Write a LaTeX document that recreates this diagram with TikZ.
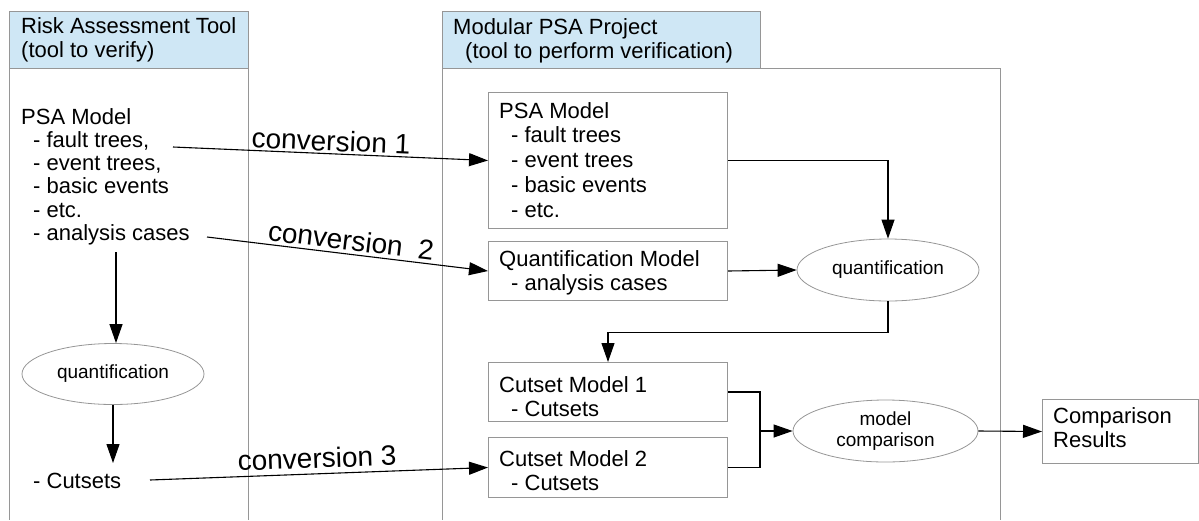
\documentclass[tikz,border=0pt]{standalone}
\usepackage{fontspec}
\setmainfont{Liberation Sans}
\usetikzlibrary{arrows.meta,shapes.geometric}
\definecolor{hdrblue}{RGB}{207,231,245}
\definecolor{edgegray}{RGB}{150,150,150}
\newcommand{\mystrut}{\rule{0pt}{17pt}}
\begin{document}
\begin{tikzpicture}[x=1pt,y=-1pt,
  colline/.style={draw=edgegray, line width=1pt},
  boxnode/.style={draw=edgegray, line width=1pt, anchor=north west, inner sep=0pt},
  hdr/.style={boxnode, fill=hdrblue},
  txt/.style={anchor=north west, inner sep=0pt, align=left, font=\fontsize{22}{24.7}\selectfont},
  elltxt/.style={ellipse, draw=edgegray, line width=0.8pt, inner sep=0pt, align=center, font=\fontsize{19}{20.5}\selectfont},
  conn/.style={draw=black, line width=1.1pt, -{Triangle[length=19pt,width=13pt]}},
  plainline/.style={draw=black, line width=1.1pt},
  convlbl/.style={sloped, above, font=\fontsize{28}{30}\selectfont}
]
\useasboundingbox (0,0) rectangle (1199,520);

% left column
\draw[colline] (9,68) -- (9,520) (248,68) -- (248,520);
\node[hdr, minimum width=239pt, minimum height=57pt] (lhdr) at (9,11) {};
\node[txt, font=\fontsize{22}{24.2}\selectfont] (lhdrtxt) at (21,16.5) {\mystrut Risk Assessment Tool\\(tool to verify)};

% middle column
\draw[colline] (442,68) -- (442,520) (760,68) -- (1000,68) -- (1000,520);
\node[hdr, minimum width=318pt, minimum height=57pt] (mhdr) at (442,11) {};
\node[txt, font=\fontsize{22}{24.2}\selectfont] (mhdrtxt) at (453,17) {\mystrut Modular PSA Project\\\hspace*{12pt}(tool to perform verification)};

% left contents
\node[txt, font=\fontsize{22}{23.2}\selectfont] (lpsa) at (21,107) {\mystrut PSA Model\\\hspace*{12pt}- fault trees,\\\hspace*{12pt}- event trees,\\\hspace*{12pt}- basic events\\\hspace*{12pt}- etc.\\\hspace*{12pt}- analysis cases};
\node[elltxt, minimum width=182pt, minimum height=61pt] (lq) at (113,374) {quantification};
\node[txt] (lcut) at (33,471) {\mystrut - Cutsets};
\coordinate (la) at (116,252);
\coordinate (lcin) at (113,463);
\draw[conn] (la) -- (la |- lq.north);
\draw[conn] (lq.south) -- (lcin);

% right boxes
\node[boxnode, minimum width=239pt, minimum height=136pt] (rpsa) at (488,92) {};
\node[txt, font=\fontsize{22}{24.75}\selectfont] (rpsatxt) at (499,101) {\mystrut PSA Model\\\hspace*{12pt}- fault trees\\\hspace*{12pt}- event trees\\\hspace*{12pt}- basic events\\\hspace*{12pt}- etc.};
\node[boxnode, minimum width=239pt, minimum height=59pt] (qbox) at (488,241) {};
\node[txt] (qtxt) at (499,249) {\mystrut Quantification Model\\\hspace*{12pt}- analysis cases};
\node[boxnode, minimum width=239pt, minimum height=59pt] (cut1) at (488,362) {};
\node[txt, font=\fontsize{22}{24}\selectfont] (cut1txt) at (499,375) {\mystrut Cutset Model 1\\\hspace*{12pt}- Cutsets};
\node[boxnode, minimum width=239pt, minimum height=60pt] (cut2) at (488,437) {};
\node[txt, font=\fontsize{22}{24}\selectfont] (cut2txt) at (499,449) {\mystrut Cutset Model 2\\\hspace*{12pt}- Cutsets};
\node[elltxt, minimum width=182pt, minimum height=62pt] (qell) at (888,270) {quantification};
\node[elltxt, minimum width=185pt, minimum height=62pt] (mell) at (885.5,431) {model\\comparison};
\node[boxnode, minimum width=155.5pt, minimum height=64pt] (res) at (1042,399) {};
\node[txt] (restxt) at (1053,406) {\mystrut Comparison\\Results};

% right connectors
\draw[conn] (rpsa.east) -| (qell.north);
\draw[conn] (qbox.east) -- (qell.west);
\draw[conn] (qell.south) -- ++(0,31) -| (cut1.north);
\coordinate (jx) at (760,431);
\draw[plainline] (cut1.east) -| (jx) |- (cut2.east);
\draw[conn] (jx) -- (mell.west);
\draw[conn] (mell.east) -- (res.west);

% conversions
\coordinate (s1) at (173,147);
\coordinate (s2) at (207,237);
\coordinate (s3) at (150,480);
\draw[conn] (s1) -- node[convlbl, pos=0.5, inner sep=2pt] (c1) {conversion 1} (rpsa.west);
\draw[conn] (s2) -- node[convlbl, pos=0.507, inner sep=3pt] (c2) {conversion~~2} (qbox.west);
\draw[conn] (s3) -- node[convlbl, pos=0.496, inner sep=5pt] (c3) {conversion 3} (cut2.west);
\end{tikzpicture}
\end{document}
